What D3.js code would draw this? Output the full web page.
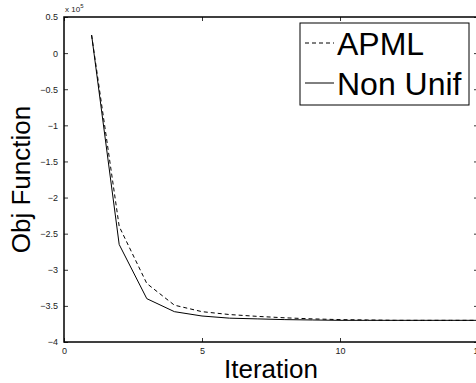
<!DOCTYPE html>
<html>
<head>
<meta charset="utf-8">
<script src="https://cdn.jsdelivr.net/npm/d3@7"></script>
<style>
  body { margin: 0; background: #fff; }
  svg { display: block; font-family: "Liberation Sans", Arial, sans-serif; }
</style>
</head>
<body>
<script>
// objective function value per iteration (x 10^5)
const iterations = [1, 2, 3, 4, 5, 6, 7, 8, 9, 10, 11, 12, 13, 14, 15];
const apml = [0.25, -2.40, -3.19, -3.49, -3.58, -3.62, -3.645, -3.665, -3.68, -3.69, -3.695, -3.70, -3.70, -3.70, -3.70];
const nonUnif = [0.25, -2.65, -3.40, -3.58, -3.64, -3.67, -3.68, -3.69, -3.695, -3.70, -3.70, -3.70, -3.70, -3.70, -3.70];
const seriesNames = ['APML', 'Non Unif'];
const xTicks = [0, 5, 10, 15];
const yTicks = [0.5, 0, -0.5, -1, -1.5, -2, -2.5, -3, -3.5, -4];

const width = 476, height = 383;
const svg = d3.select('body')
    .append('svg')
    .attr('width', width)
    .attr('height', height);

const x = d3.scaleLinear().domain([0, 15]).range([64, 478]);
const y = d3.scaleLinear().domain([-4e5, 0.5e5]).range([342, 17]);

const fmt = v => (v < 0 ? '\u2212' : '') + Math.abs(v);

// box
svg.append('rect')
    .attr('x', x(0)).attr('y', y(0.5e5))
    .attr('width', x(15) - x(0)).attr('height', y(-4e5) - y(0.5e5))
    .attr('fill', 'none').attr('stroke', '#000').attr('stroke-width', 1.5);

// axes with inward ticks
const axB = svg.append('g').attr('transform', `translate(0,${y(-4e5)})`)
    .call(d3.axisBottom(x).tickValues(xTicks).tickSize(-4).tickPadding(6).tickFormat(d => d));
const axT = svg.append('g').attr('transform', `translate(0,${y(0.5e5)})`)
    .call(d3.axisTop(x).tickValues(xTicks).tickSize(-4).tickFormat(''));
const axL = svg.append('g').attr('transform', `translate(${x(0)},0)`)
    .call(d3.axisLeft(y).tickValues(yTicks.map(v => v * 1e5)).tickSize(-4).tickPadding(6).tickFormat(d => fmt(d / 1e5)));
const axR = svg.append('g').attr('transform', `translate(${x(15)},0)`)
    .call(d3.axisRight(y).tickValues(yTicks.map(v => v * 1e5)).tickSize(-4).tickFormat(''));

[axB, axT, axL, axR].forEach(g => {
    g.select('.domain').remove();
    g.selectAll('line').attr('stroke', '#000').attr('stroke-width', 0.8);
    g.selectAll('text').attr('font-size', 9).attr('fill', '#222')
        .attr('font-family', '"Liberation Sans", Arial, sans-serif');
});

// exponent label
const ex = svg.append('text').attr('x', x(0) + 1).attr('y', 12)
    .attr('font-size', 8).attr('fill', '#222');
ex.append('tspan').text('x 10');
ex.append('tspan').attr('dy', -4).attr('font-size', 6).text('5');

// series
const line = d3.line().x((d, i) => x(iterations[i])).y(d => y(d * 1e5));

svg.append('path').datum(apml)
    .attr('fill', 'none').attr('stroke', '#000').attr('stroke-width', 1)
    .attr('stroke-dasharray', '4,3')
    .attr('d', line);
svg.append('path').datum(nonUnif)
    .attr('fill', 'none').attr('stroke', '#000').attr('stroke-width', 1)
    .attr('d', line);

// axis labels
svg.append('text')
    .attr('x', (x(0) + x(15)) / 2).attr('y', 378)
    .attr('text-anchor', 'middle').attr('font-size', 26)
    .text('Iteration');
svg.append('text')
    .attr('transform', `translate(30,${(y(0.5e5) + y(-4e5)) / 2}) rotate(-90)`)
    .attr('text-anchor', 'middle').attr('font-size', 26)
    .text('Obj Function');

// legend
const lg = svg.append('g');
lg.append('rect')
    .attr('x', 300).attr('y', 23).attr('width', 169).attr('height', 82)
    .attr('fill', '#fff').attr('stroke', '#000').attr('stroke-width', 1);
seriesNames.forEach((name, i) => {
    const cy = 43 + i * 40;
    lg.append('line')
        .attr('x1', 305).attr('x2', 334).attr('y1', cy).attr('y2', cy)
        .attr('stroke', '#000').attr('stroke-width', 1)
        .attr('stroke-dasharray', i === 0 ? '4,3' : null);
    lg.append('text')
        .attr('x', 337).attr('y', cy + 12)
        .attr('font-size', 32)
        .text(name);
});
</script>
</body>
</html>
